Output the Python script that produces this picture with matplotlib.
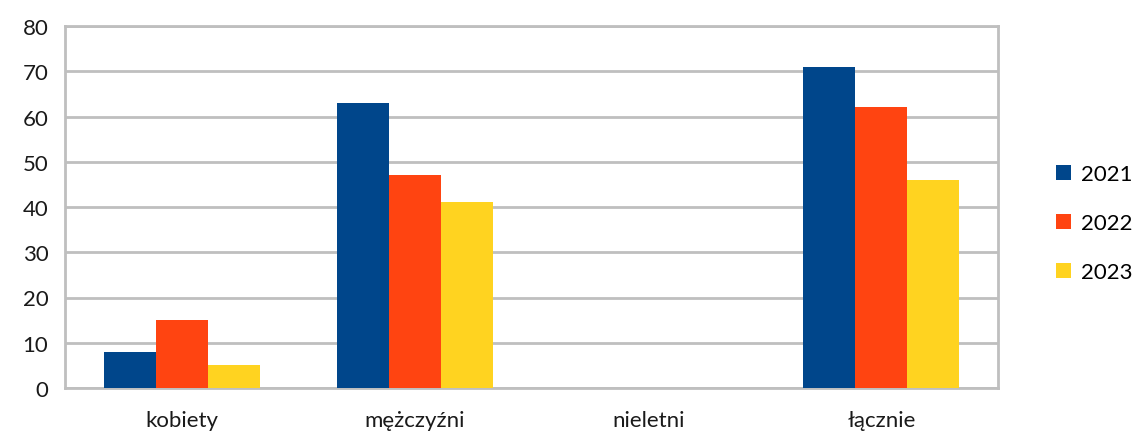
import matplotlib.pyplot as plt
import numpy as np

plt.rcParams['font.family'] = ['Lato', 'DejaVu Sans']

categories = ['kobiety', 'mężczyźni', 'nieletni', 'łącznie']
years = ['2021', '2022', '2023']
v2021 = [8, 63, 0, 71]
v2022 = [15, 47, 0, 62]
v2023 = [5, 41, 0, 46]
colors = ['#00468B', '#FF4411', '#FFD320']

fig = plt.figure(figsize=(11.37, 4.35), dpi=100)
ax = fig.add_axes([65/1137, 1 - 389/435, 933/1137, 362/435])

x = np.arange(len(categories))
w = 0.223
for i, (vals, lab) in enumerate(zip([v2021, v2022, v2023], years)):
    ax.bar(x + (i - 1) * w, vals, w, color=colors[i], label=lab, zorder=3)

ax.set_xlim(-0.5, 3.5)
ax.set_ylim(0, 80)
ax.set_yticks(range(0, 81, 10))
ax.set_xticks(x)
ax.set_xticklabels(categories)
ax.grid(axis='y', color='#BFBFBF', linewidth=2, zorder=0)
for s in ax.spines.values():
    s.set_color('#BFBFBF')
    s.set_linewidth(2)
ax.tick_params(axis='both', length=0, labelsize=16, colors='#1a1a1a')
ax.tick_params(axis='x', pad=16)
ax.tick_params(axis='y', pad=12)

ax.legend(loc='center left', bbox_to_anchor=(1.062, 0.455), frameon=False,
          fontsize=16, handlelength=0.7, handleheight=0.7, labelspacing=1.3,
          handletextpad=0.45, borderaxespad=0, borderpad=0)

plt.savefig('out.png', dpi=100)
